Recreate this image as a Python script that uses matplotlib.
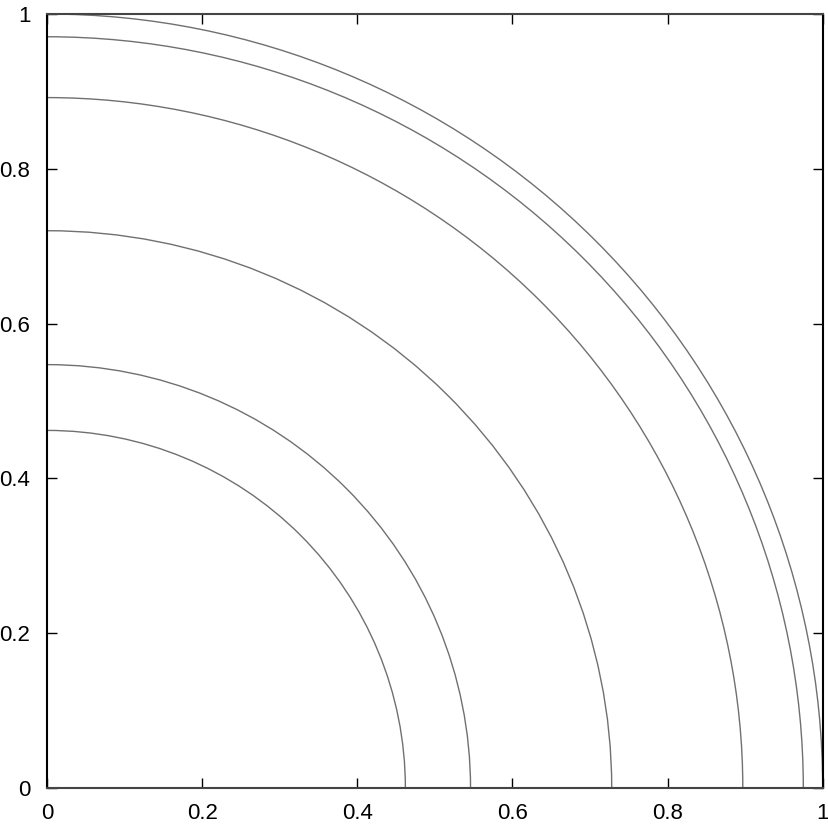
import matplotlib
matplotlib.use("Agg")
import matplotlib.pyplot as plt
from matplotlib.patches import Arc

# Contour intercepts
x_intercepts = [0.462, 0.546, 0.728, 0.897, 0.975, 1.0]
y_intercepts = [0.462, 0.547, 0.720, 0.892, 0.9706, 1.0]
x_ticks = [0, 0.2, 0.4, 0.6, 0.8, 1]
x_tick_labels = ["0", "0.2", "0.4", "0.6", "0.8", "1"]
y_ticks = [0, 0.2, 0.4, 0.6, 0.8, 1]
y_tick_labels = ["0", "0.2", "0.4", "0.6", "0.8", "1"]

plt.rcParams['font.family'] = ['Liberation Sans', 'DejaVu Sans']

fig = plt.figure(figsize=(8.29, 8.26), dpi=100)
ax = fig.add_axes([47 / 829, 38 / 826, 775.7 / 829, 774 / 826])

for xi, yi in zip(x_intercepts, y_intercepts):
    arc = Arc((0, 0), 2 * xi, 2 * yi, theta1=0, theta2=90,
              color='#707070', lw=1.0)
    ax.add_patch(arc)

ax.set_xlim(0, 1)
ax.set_ylim(0, 1)
ax.set_xticks(x_ticks)
ax.set_xticklabels(x_tick_labels)
ax.set_yticks(y_ticks)
ax.set_yticklabels(y_tick_labels)
ax.tick_params(direction='in', length=7, width=1.0, top=True, right=True,
               labelsize=16, colors='black')
ax.tick_params(axis='x', pad=11)
ax.tick_params(axis='y', pad=12)
for s in ax.spines.values():
    s.set_linewidth(1.5)
    s.set_color('black')
ax.spines['top'].set_color('#444444')
ax.spines['bottom'].set_color('#444444')

fig.savefig("out.png", dpi=100)
